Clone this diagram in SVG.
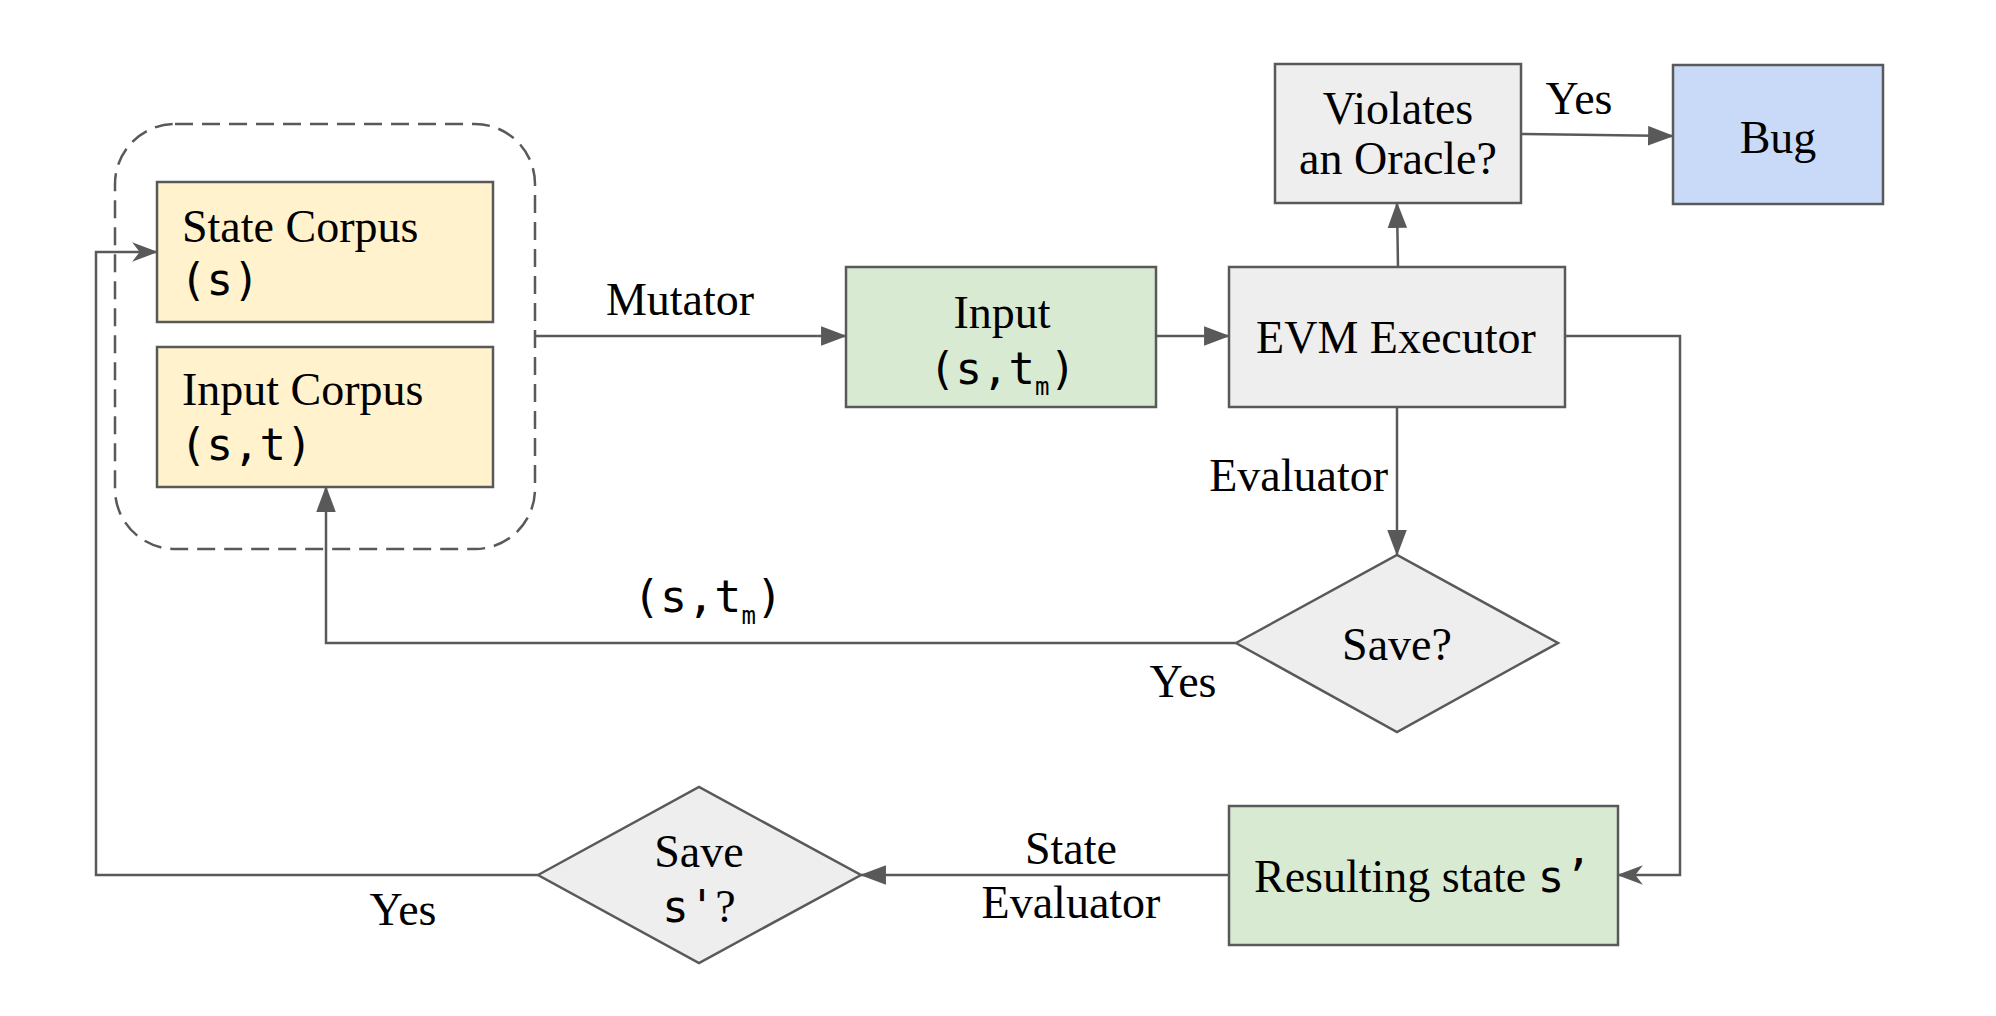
<svg xmlns="http://www.w3.org/2000/svg" width="1996" height="1016" viewBox="0 0 1996 1016">
<style>
.box{stroke:#595959;stroke-width:2.5}
.y{fill:#fff2cc}.g{fill:#d9ead3}.gr{fill:#eeeeee}.b{fill:#c9daf8}
.t{font-family:"Liberation Serif","Times New Roman",serif;font-size:46px;fill:#000}
.m{font-family:"DejaVu Sans Mono","Liberation Mono",monospace;font-size:44px}
.sub{font-family:"DejaVu Sans Mono","Liberation Mono",monospace;font-size:24px}
.c{text-anchor:middle}
.ln{fill:none;stroke:#595959;stroke-width:2.5}
</style>
<defs>
<marker id="tri" markerUnits="userSpaceOnUse" markerWidth="26" markerHeight="20" viewBox="0 0 24 18" refX="23" refY="9" orient="auto">
<path d="M0,0 L24,9 L0,18 Z" fill="#595959"/>
</marker>
<marker id="stealth" markerUnits="userSpaceOnUse" markerWidth="26" markerHeight="20" viewBox="0 0 24 18" refX="23" refY="9" orient="auto">
<path d="M0,0 L24,9 L0,18 L7,9 Z" fill="#595959"/>
</marker>
</defs>

<g id="corpus-container">
<rect x="115" y="124" width="420" height="425" rx="60" ry="60" fill="none" stroke="#595959" stroke-width="2.5" stroke-dasharray="18 9"/>
</g>
<g id="state-corpus">
<rect class="box y" x="157" y="182" width="336" height="140"/>
<text class="t" x="182" y="242">State Corpus</text>
<text class="m" x="180" y="295">(s)</text>
</g>
<g id="input-corpus">
<rect class="box y" x="157" y="347" width="336" height="140"/>
<text class="t" x="182" y="405">Input Corpus</text>
<text class="m" x="180" y="460">(s,t)</text>
</g>
<g id="input">
<rect class="box g" x="846" y="267" width="310" height="140"/>
<text class="t c" x="1002" y="328">Input</text>
<text class="m" x="929" y="384">(s,t<tspan class="sub" dy="11">m</tspan><tspan dy="-11">)</tspan></text>
</g>
<g id="evm-executor">
<rect class="box gr" x="1229" y="267" width="336" height="140"/>
<text class="t c" x="1396" y="353">EVM Executor</text>
</g>
<g id="violates-oracle">
<rect class="box gr" x="1275" y="64" width="246" height="139"/>
<text class="t c" x="1398" y="124">Violates</text>
<text class="t c" x="1398" y="174">an Oracle?</text>
</g>
<g id="bug">
<rect class="box b" x="1673" y="65" width="210" height="139"/>
<text class="t c" x="1778" y="153">Bug</text>
</g>
<g id="save">
<polygon class="box gr" points="1236,643 1397,555 1558,643 1397,732"/>
<text class="t c" x="1397" y="660">Save?</text>
</g>
<g id="resulting-state">
<rect class="box g" x="1229" y="806" width="389" height="139"/>
<text class="t" x="1254" y="892">Resulting state <tspan class="m">s’</tspan></text>
</g>
<g id="save-state">
<polygon class="box gr" points="538,875 699,787 861,875 699,963"/>
<text class="t c" x="699" y="867">Save</text>
<text class="t c" x="699" y="922"><tspan class="m">s'</tspan>?</text>
</g>

<g id="connectors">
<path class="ln" d="M535,336 H846" marker-end="url(#tri)"/>
<path class="ln" d="M1156,336 H1229" marker-end="url(#tri)"/>
<path class="ln" d="M1398,267 L1397,203" marker-end="url(#tri)"/>
<path class="ln" d="M1521,134 L1673,136" marker-end="url(#tri)"/>
<path class="ln" d="M1565,336 H1680 V875 H1618" marker-end="url(#stealth)"/>
<path class="ln" d="M1397,407 V555" marker-end="url(#tri)"/>
<path class="ln" d="M1236,643 H326 V487" marker-end="url(#tri)"/>
<path class="ln" d="M1229,875 H861" marker-end="url(#tri)"/>
<path class="ln" d="M538,875 H96 V252 H157" marker-end="url(#stealth)"/>
<text class="t c" x="680" y="315">Mutator</text>
<text class="t" x="1388" y="491" text-anchor="end">Evaluator</text>
<text class="m" x="633" y="612" style="font-size:45px">(s,t<tspan class="sub" dy="12">m</tspan><tspan dy="-12">)</tspan></text>
<text class="t c" x="1183" y="697">Yes</text>
<text class="t c" x="1579" y="114">Yes</text>
<text class="t c" x="1071" y="864">State</text>
<text class="t c" x="1071" y="918">Evaluator</text>
<text class="t c" x="403" y="925">Yes</text>
</g>
</svg>
